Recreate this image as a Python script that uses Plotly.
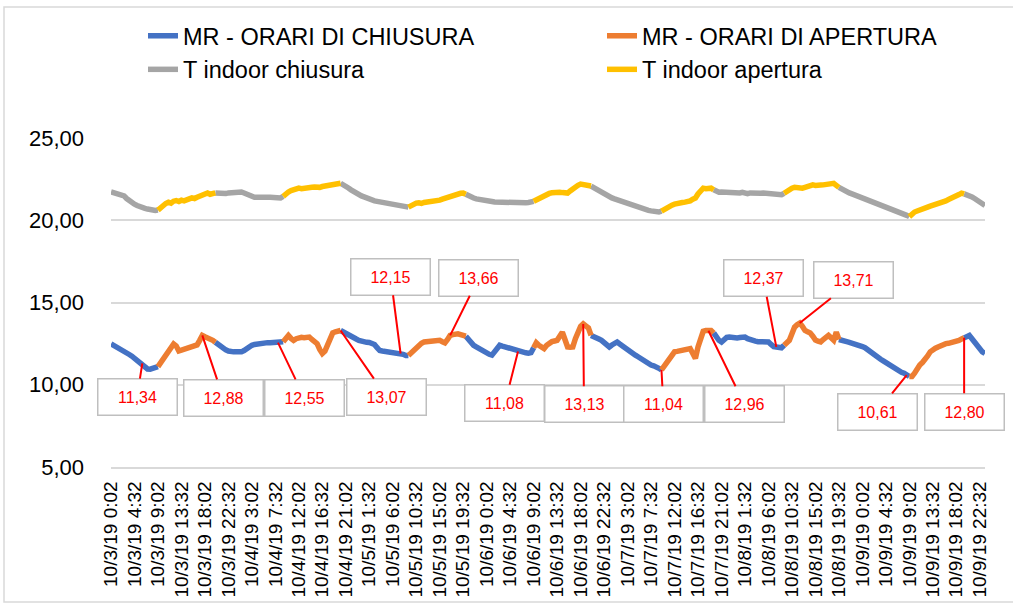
import pandas as pd
import plotly.graph_objects as go

# Half-hourly timestamps, 3-9 October 2019 (48 samples per day)
timestamps = [t.strftime("%-m/%-d/%y %-H:%M")
              for t in pd.date_range("2019-10-03 00:02", periods=336, freq="30min")]

# MR readings, one list per day
mr_day1 = [12.48, 12.40, 12.32, 12.22, 12.12, 12.05, 11.92, 11.84, 11.74, 11.62, 11.52, 11.40,
           11.30, 11.12, 10.96, 10.95, 10.98, 11.00, 11.10, 11.35, 11.62, 11.85, 12.05, 12.30,
           12.48, 12.35, 12.05, 12.10, 12.16, 12.20, 12.26, 12.30, 12.36, 12.42, 12.70, 13.00,
           12.92, 12.86, 12.78, 12.70, 12.58, 12.45, 12.30, 12.20, 12.12, 12.05, 12.00, 12.00]
mr_day2 = [12.00, 11.98, 12.00, 12.08, 12.20, 12.30, 12.40, 12.45, 12.48, 12.52, 12.55, 12.54,
           12.56, 12.55, 12.57, 12.55, 12.56, 12.58, 12.62, 12.85, 13.00, 12.82, 12.70, 12.80,
           12.85, 12.88, 12.86, 12.90, 12.90, 12.75, 12.60, 12.50, 12.15, 11.90, 12.05, 12.40,
           12.85, 13.15, 13.22, 13.28, 13.30, 13.20, 13.10, 13.00, 12.90, 12.85, 12.78, 12.70]
mr_day3 = [12.64, 12.60, 12.58, 12.57, 12.55, 12.45, 12.25, 12.08, 12.05, 12.03, 12.02, 12.00,
           11.98, 11.95, 11.93, 11.90, 11.85, 11.78, 11.78, 11.95, 12.10, 12.25, 12.40, 12.52,
           12.60, 12.62, 12.60, 12.58, 12.62, 12.66, 12.70, 12.62, 12.55, 12.75, 13.00, 13.05,
           13.08, 13.10, 13.05, 13.00, 12.95, 12.75, 12.55, 12.40, 12.30, 12.20, 12.10, 12.00]
mr_day4 = [11.92, 11.85, 11.80, 12.00, 12.25, 12.40, 12.35, 12.30, 12.25, 12.20, 12.15, 12.08,
           12.02, 12.00, 11.97, 11.94, 11.92, 11.95, 12.25, 12.55, 12.40, 12.25, 12.20, 12.40,
           12.55, 12.62, 12.66, 12.70, 12.95, 13.20, 12.75, 12.30, 12.28, 12.30, 12.80, 13.30,
           13.55, 13.70, 13.60, 13.45, 13.00, 12.95, 12.85, 12.78, 12.70, 12.55, 12.40, 12.30]
mr_day5 = [12.42, 12.55, 12.60, 12.48, 12.35, 12.22, 12.10, 12.00, 11.90, 11.80, 11.70, 11.58,
           11.47, 11.36, 11.25, 11.20, 11.15, 11.10, 11.00, 10.90, 11.15, 11.40, 11.65, 11.85,
           12.00, 12.03, 12.05, 12.08, 12.10, 12.15, 12.20, 11.90, 11.60, 12.30, 12.90, 13.25,
           13.30, 13.28, 13.30, 13.15, 12.90, 12.70, 12.60, 12.75, 12.88, 12.90, 12.87, 12.85]
mr_day6 = [12.85, 12.87, 12.90, 12.90, 12.80, 12.72, 12.68, 12.65, 12.62, 12.60, 12.62, 12.60,
           12.60, 12.45, 12.32, 12.30, 12.27, 12.25, 12.40, 12.55, 12.70, 13.10, 13.50, 13.65,
           13.75, 13.55, 13.30, 13.22, 13.15, 12.95, 12.72, 12.65, 12.60, 12.75, 12.90, 13.00,
           12.85, 12.70, 13.20, 12.75, 12.68, 12.65, 12.62, 12.58, 12.54, 12.50, 12.44, 12.38]
mr_day7 = [12.32, 12.25, 12.12, 12.00, 11.88, 11.77, 11.67, 11.55, 11.45, 11.35, 11.22, 11.08,
           10.97, 10.90, 10.82, 10.76, 10.70, 10.58, 10.50, 10.50, 10.70, 11.00, 11.20, 11.35,
           11.50, 11.75, 12.00, 12.15, 12.22, 12.30, 12.38, 12.46, 12.50, 12.52, 12.55, 12.60,
           12.65, 12.70, 12.78, 12.85, 12.92, 13.00, 12.80, 12.60, 12.30, 12.10, 12.00, 11.90]

# Indoor temperature, one list per day
t_day1 = [21.72, 21.68, 21.64, 21.60, 21.56, 21.48, 21.32, 21.18, 21.08, 20.98, 20.90, 20.82,
          20.76, 20.72, 20.68, 20.64, 20.62, 20.60, 20.62, 20.78, 20.90, 21.02, 21.10, 21.04,
          21.16, 21.20, 21.14, 21.22, 21.18, 21.20, 21.30, 21.36, 21.32, 21.40, 21.48, 21.56,
          21.62, 21.66, 21.58, 21.64, 21.66, 21.64, 21.66, 21.65, 21.62, 21.66, 21.68, 21.64]
t_day2 = [21.68, 21.70, 21.72, 21.66, 21.58, 21.48, 21.42, 21.40, 21.40, 21.42, 21.40, 21.38,
          21.40, 21.40, 21.38, 21.36, 21.35, 21.36, 21.45, 21.62, 21.72, 21.80, 21.86, 21.92,
          21.95, 21.92, 21.96, 22.00, 21.98, 22.00, 22.02, 21.98, 22.00, 22.05, 22.08, 22.12,
          22.15, 22.20, 22.24, 22.26, 22.25, 22.18, 22.06, 21.96, 21.85, 21.74, 21.64, 21.55]
t_day3 = [21.48, 21.42, 21.34, 21.28, 21.22, 21.18, 21.15, 21.12, 21.10, 21.07, 21.05, 21.00,
          20.96, 20.92, 20.88, 20.85, 20.82, 20.80, 20.80, 20.90, 20.98, 21.04, 21.06, 21.02,
          21.08, 21.10, 21.12, 21.08, 21.14, 21.16, 21.22, 21.28, 21.34, 21.40, 21.46, 21.52,
          21.58, 21.60, 21.64, 21.65, 21.58, 21.48, 21.40, 21.35, 21.30, 21.26, 21.23, 21.21]
t_day4 = [21.20, 21.17, 21.14, 21.11, 21.10, 21.08, 21.07, 21.06, 21.05, 21.05, 21.04, 21.05,
          21.06, 21.05, 21.05, 21.06, 21.08, 21.10, 21.15, 21.24, 21.33, 21.40, 21.48, 21.56,
          21.63, 21.67, 21.70, 21.72, 21.70, 21.68, 21.66, 21.65, 21.78, 21.92, 22.02, 22.12,
          22.20, 22.18, 22.15, 22.15, 22.08, 21.98, 21.88, 21.80, 21.70, 21.60, 21.50, 21.40]
t_day5 = [21.36, 21.30, 21.24, 21.18, 21.12, 21.06, 21.00, 20.94, 20.88, 20.84, 20.80, 20.74,
          20.68, 20.63, 20.60, 20.57, 20.54, 20.52, 20.50, 20.55, 20.66, 20.76, 20.84, 20.92,
          20.98, 21.04, 21.06, 21.08, 21.10, 21.10, 21.18, 21.28, 21.35, 21.60, 21.85, 21.95,
          21.92, 21.96, 21.95, 21.85, 21.74, 21.70, 21.72, 21.70, 21.68, 21.70, 21.72, 21.70]
t_day6 = [21.68, 21.66, 21.70, 21.65, 21.62, 21.66, 21.64, 21.65, 21.66, 21.64, 21.65, 21.64,
          21.65, 21.62, 21.60, 21.58, 21.56, 21.55, 21.64, 21.76, 21.86, 21.95, 22.00, 21.98,
          21.94, 21.95, 22.00, 22.06, 22.12, 22.15, 22.12, 22.16, 22.14, 22.15, 22.18, 22.22,
          22.25, 22.24, 22.12, 22.00, 21.90, 21.80, 21.72, 21.66, 21.60, 21.54, 21.48, 21.42]
t_day7 = [21.38, 21.32, 21.26, 21.20, 21.14, 21.08, 21.02, 20.96, 20.90, 20.84, 20.80, 20.74,
          20.68, 20.62, 20.56, 20.50, 20.42, 20.30, 20.22, 20.38, 20.50, 20.56, 20.64, 20.72,
          20.76, 20.80, 20.86, 20.90, 20.94, 20.98, 21.04, 21.10, 21.18, 21.26, 21.32, 21.40,
          21.48, 21.56, 21.65, 21.60, 21.56, 21.52, 21.42, 21.32, 21.22, 21.12, 21.00, 20.90]

mr_values = mr_day1 + mr_day2 + mr_day3 + mr_day4 + mr_day5 + mr_day6 + mr_day7
t_values = t_day1 + t_day2 + t_day3 + t_day4 + t_day5 + t_day6 + t_day7

# Opening hours per day: first and last half-hour slot (inclusive)
open_first = [18, 18, 18, 18, 19, 18, 18]
open_last = [40, 40, 40, 40, 39, 39, 39]

# Callouts: text, sample they point to, and box centre (sample position, value)
label_text = ["11,34", "12,88", "12,55", "13,07", "12,15", "13,66", "11,08",
              "13,13", "11,04", "12,96", "12,37", "13,71", "10,61", "12,80"]
label_sample = [12, 35, 64, 88, 111, 130, 156, 181, 211, 229, 255, 264, 305, 327]
box_sample = [10.0, 43.0, 74.1, 105.6, 107.2, 141.0, 151.0, 181.3, 211.7, 242.8,
              250.0, 284.7, 293.7, 327.0]
box_value = [9.26, 9.22, 9.22, 9.26, 16.55, 16.52, 8.89, 8.80, 8.80, 8.80,
             16.46, 16.37, 8.37, 8.37]

n = len(timestamps)
is_open = [False] * n
for d, (a, b) in enumerate(zip(open_first, open_last)):
    for k in range(a, b + 1):
        is_open[d * 48 + k] = True


def split(values):
    """Split a series into closed-hours and open-hours parts, sharing boundary points."""
    closed, opened = [], []
    for i, v in enumerate(values):
        prev_open = is_open[i - 1] if i > 0 else is_open[i]
        next_open = is_open[i + 1] if i < n - 1 else is_open[i]
        if is_open[i]:
            opened.append(v)
            closed.append(v if (not prev_open or not next_open) else None)
        else:
            closed.append(v)
            opened.append(None)
    return closed, opened


mr_closed, mr_open = split(mr_values)
t_closed, t_open = split(t_values)

BLUE, ORANGE, GREY, YELLOW = "#4472C4", "#ED7D31", "#A5A5A5", "#FFC000"
FONT = "Liberation Sans, Arial, sans-serif"

fig = go.Figure()
# (name, values, colour, legend column)
series = [
    ("MR - ORARI DI CHIUSURA", mr_closed, BLUE, "legend"),
    ("MR - ORARI DI APERTURA", mr_open, ORANGE, "legend2"),
    ("T indoor chiusura", t_closed, GREY, "legend"),
    ("T indoor apertura", t_open, YELLOW, "legend2"),
]
for name, vals, color, leg in series:
    fig.add_trace(go.Scatter(
        x=timestamps, y=vals, name=name, mode="lines", legend=leg,
        line=dict(color=color, width=5.5), connectgaps=False,
    ))

annotations = []
for txt, s, bx, by in zip(label_text, label_sample, box_sample, box_value):
    annotations.append(dict(
        x=s, y=mr_values[s], xref="x", yref="y",
        ax=bx, ay=by, axref="x", ayref="y",
        text=txt, showarrow=True, arrowhead=0, arrowwidth=2, arrowcolor="#FF0000",
        font=dict(family=FONT, size=16, color="#FF0000"),
        bgcolor="#FFFFFF", bordercolor="#BFBFBF", borderwidth=1.5, borderpad=2,
        width=74, height=31, align="center", valign="middle",
    ))

W, H = 1013, 605
ML, MR_, MT, MB = 111, 28, 138, 138
pw, ph = W - ML - MR_, H - MT - MB

legend_style = dict(
    orientation="v", xanchor="left", yref="container", yanchor="top",
    y=1 - 14 / H, font=dict(size=23.5, color="#000000"),
    tracegroupgap=0, bgcolor="rgba(0,0,0,0)", traceorder="normal",
)

fig.update_layout(
    width=W, height=H,
    margin=dict(l=ML, r=MR_, t=MT, b=MB, autoexpand=False),
    paper_bgcolor="#FFFFFF", plot_bgcolor="#FFFFFF",
    separators=",.",
    font=dict(family=FONT, color="#000000"),
    showlegend=True,
    legend=dict(x=143 / W, xref="container", **legend_style),
    legend2=dict(x=602 / W, xref="container", **legend_style),
    annotations=annotations,
    shapes=[dict(
        type="rect", xref="paper", yref="paper",
        x0=(4 - ML) / pw, x1=(1020 - ML) / pw,
        y0=(H - MB - 602) / ph, y1=(H - MB - 7) / ph,
        line=dict(color="#D9D9D9", width=1.5), fillcolor="rgba(0,0,0,0)", layer="below",
    )],
)

fig.update_xaxes(
    type="category", range=[0, n - 1],
    tickmode="array", tickvals=timestamps[::9], ticktext=timestamps[::9],
    tickangle=-90, tickfont=dict(size=19, color="#000000"), ticklabelstandoff=5,
    showgrid=False, zeroline=False,
    showline=True, linecolor="#D9D9D9", linewidth=1.5, ticks="",
)
fig.update_yaxes(
    range=[5, 25], dtick=5, tick0=5, tickformat=".2f",
    tickfont=dict(size=22, color="#000000"),
    showgrid=True, gridcolor="#D9D9D9", gridwidth=1.5,
    zeroline=False, showline=False, ticks="", ticklabelstandoff=26,
)

fig.write_html("out.html")
